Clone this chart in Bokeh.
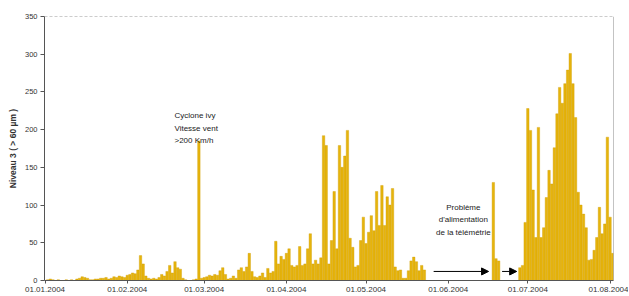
from bokeh.plotting import figure
from bokeh.models import FixedTicker, Span, Label, Arrow, NormalHead, ColumnDataSource, Range1d
from bokeh.embed import file_html
from bokeh.resources import INLINE

# daily values, day 0 = 01.01.2004
jan = [0,1,2,1,0,1,0,0,1,0,1,0,2,3,5,4,3,1,1,2,2,3,3,4,2,3,5,4,6,5,4]
feb = [7,8,10,9,14,33,22,6,3,2,3,2,4,8,6,12,20,10,25,17,15,3,1,0,0,1,2,185,3]
mar = [4,5,7,6,8,7,13,17,8,2,3,6,3,14,17,12,18,36,12,5,4,6,10,4,16,10,12,52,22,32,28]
apr = [36,42,20,18,20,45,20,22,42,62,22,27,22,30,192,179,22,53,118,42,179,150,165,199,56,44,18,20,53,84]
may = [49,64,86,66,118,73,126,73,111,100,122,18,13,14,3,3,13,26,31,25,13,20,14,0,0,0,0,0,0,0,0]
jun = [0]*17 + [130,29,26] + [0]*7 + [17,20,77]
jul = [228,199,120,57,203,57,70,110,146,128,176,221,256,235,261,279,301,261,216,117,100,88,70,27,28,40,57,97,62,75,190]
aug = [84,36]
values = jan + feb + mar + apr + may + jun + jul + aug

month_ticks = [0, 31, 60, 91, 121, 152, 182, 213]
month_labels = ["01.01.2004", "01.02.2004", "01.03.2004", "01.04.2004",
                "01.05.2004", "01.06.2004", "01.07.2004", "01.08.2004"]
y_ticks = [0, 50, 100, 150, 200, 250, 300, 350]

days = [i for i, v in enumerate(values) if v > 0]
vals = [v for v in values if v > 0]
src = ColumnDataSource(dict(d=days, v=vals))

X0, X1 = -0.2, 214.3
p = figure(width=628, height=296, x_range=Range1d(X0, X1), y_range=Range1d(0, 350),
           output_backend="svg", toolbar_location=None,
           min_border_left=44, min_border_right=15, min_border_top=16, min_border_bottom=16)

p.vbar(x="d", top="v", width=0.92, source=src,
       fill_color="#E6B40C", line_color="#D1A006", line_width=0.4)

font = "Liberation Sans"
p.grid.visible = False
p.outline_line_color = None

p.xaxis.ticker = FixedTicker(ticks=month_ticks)
p.xaxis.major_label_overrides = {t: l for t, l in zip(month_ticks, month_labels)}
p.xaxis.minor_tick_line_color = None
p.xaxis.major_tick_out = 3
p.xaxis.major_tick_in = 0
p.xaxis.major_label_standoff = 3
p.xaxis.major_label_text_font = font
p.xaxis.major_label_text_font_size = "8px"
p.xaxis.major_label_text_color = "#333333"
p.xaxis.axis_line_color = "#555555"
p.xaxis.major_tick_line_color = "#555555"

p.yaxis.ticker = FixedTicker(ticks=y_ticks)
p.yaxis.minor_tick_line_color = None
p.yaxis.major_tick_out = 4
p.yaxis.major_tick_in = 0
p.yaxis.major_label_standoff = 3
p.yaxis.major_label_text_font = font
p.yaxis.major_label_text_font_size = "7.5px"
p.yaxis.major_label_text_color = "#333333"
p.yaxis.axis_line_color = "#555555"
p.yaxis.major_tick_line_color = "#555555"
p.yaxis.axis_label = "Niveau 3 ( > 60 µm )"
p.yaxis.axis_label_text_font = font
p.yaxis.axis_label_text_font_size = "8.5px"
p.yaxis.axis_label_text_font_style = "bold"
p.yaxis.axis_label_text_color = "#333333"
p.yaxis.axis_label_standoff = 4

p.add_layout(Span(location=350, dimension="width", line_color="#999999", line_dash="3 2", line_width=1))
p.add_layout(Span(location=X1, dimension="height", line_color="#888888", line_width=1))

cyclone_lines = ["Cyclone ivy", "Vitesse  vent", ">200 Km/h"]
cyclone_x = 48.8
cyclone_y = [218.7, 201.5, 185.6]
for t, yy in zip(cyclone_lines, cyclone_y):
    p.add_layout(Label(x=cyclone_x, y=yy, text=t, text_font=font, text_font_size="8px",
                       text_baseline="middle", text_align="left", text_color="#222222"))

prob_lines = ["Problème", "d'alimentation", "de la télémétrie"]
prob_x = 157.7
prob_y = [96.8, 80.9, 63.6]
for t, yy in zip(prob_lines, prob_y):
    p.add_layout(Label(x=prob_x, y=yy, text=t, text_font=font, text_font_size="8px",
                       text_baseline="middle", text_align="center", text_color="#222222"))

arrow_y = 12
for xs, xe in [(146.5, 167.2), (172.3, 177.8)]:
    p.add_layout(Arrow(end=NormalHead(size=7, fill_color="black", line_color="black"),
                       x_start=xs, y_start=arrow_y, x_end=xe, y_end=arrow_y,
                       line_color="black", line_width=1))

open("out.html", "w").write(file_html(p, INLINE))
